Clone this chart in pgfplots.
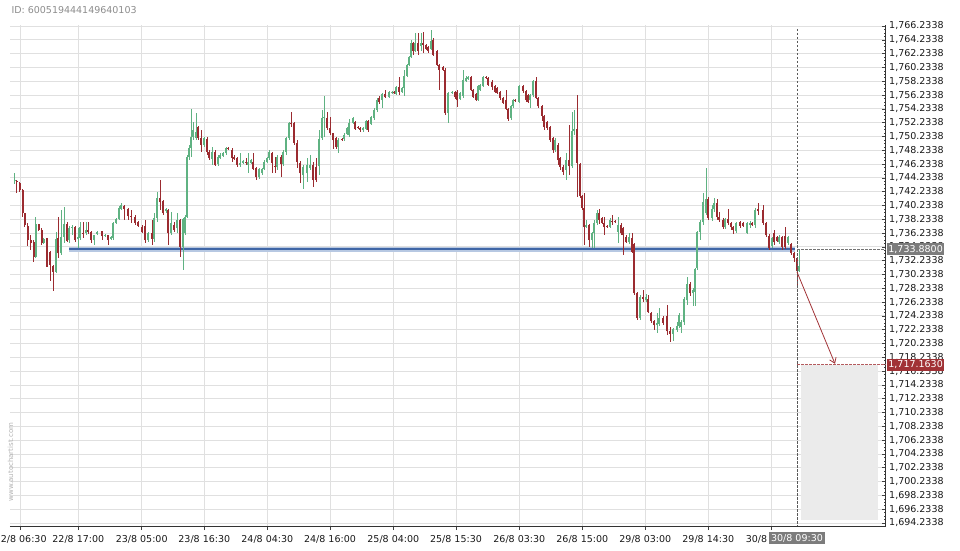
\documentclass[border=0pt]{standalone}
\usepackage{pgfplots}
\pgfplotsset{compat=1.18}
\usepackage{pgfplotstable}
\usepackage{fontspec}
\setmainfont{DejaVu Sans}
\usetikzlibrary{arrows.meta}
\definecolor{cgreen}{HTML}{5FB282}
\definecolor{cred}{HTML}{9B2B30}
\definecolor{cblue}{HTML}{3F66A6}
\definecolor{cblueh}{HTML}{B7C8E2}
\definecolor{hlred}{HTML}{A13236}
\definecolor{hlgrey}{HTML}{7C7C7C}

\pgfplotstableread{
x o h l c
15 1743.8 1744.9 1743.3 1743.9
36 1732.8 1738.6 1732.6 1737.5
44 1734.8 1735.5 1734.6 1735.4
56 1730.6 1736.4 1730.4 1735.4
61 1733.3 1739.6 1733.1 1735.7
64 1735.7 1740.0 1734.8 1737.5
69 1735.2 1737.3 1734.8 1737.0
72 1737.0 1737.4 1735.9 1737.1
78 1735.4 1737.0 1734.1 1735.7
80 1735.5 1737.8 1735.2 1737.1
86 1736.2 1737.8 1735.9 1736.7
94 1735.2 1736.0 1734.5 1735.9
97 1736.1 1736.5 1735.9 1736.4
105 1735.8 1736.1 1735.6 1735.9
111 1735.4 1735.8 1735.2 1735.7
113 1735.5 1737.8 1735.2 1737.7
116 1737.7 1738.4 1737.5 1738.3
119 1738.3 1740.2 1738.1 1739.9
121 1739.7 1740.6 1739.6 1740.3
148 1735.2 1736.4 1735.0 1736.2
154 1735.4 1739.1 1734.9 1738.4
157 1738.4 1742.2 1737.8 1741.3
166 1739.4 1739.9 1739.2 1739.7
171 1736.2 1739.3 1735.9 1737.7
177 1737.0 1739.1 1736.2 1738.1
183 1734.2 1738.4 1730.9 1738.3
185 1736.2 1738.8 1735.9 1738.6
187 1738.6 1747.5 1738.4 1747.3
189 1747.3 1749.0 1746.8 1748.6
191 1748.6 1754.2 1747.3 1750.1
193 1750.1 1752.3 1749.7 1751.2
196 1750.0 1753.6 1749.7 1750.9
204 1749.0 1750.1 1748.7 1750.0
212 1747.0 1748.7 1746.1 1748.0
218 1746.2 1747.5 1745.9 1747.3
220 1747.1 1747.8 1746.9 1747.5
223 1747.4 1748.0 1747.3 1747.8
226 1747.8 1748.7 1747.5 1748.6
240 1746.1 1747.8 1745.8 1746.4
243 1746.4 1746.8 1746.3 1746.7
248 1746.1 1747.8 1744.9 1746.5
251 1746.4 1747.0 1746.2 1746.8
259 1744.4 1745.6 1744.1 1745.5
262 1744.9 1745.7 1744.7 1745.5
264 1745.5 1746.8 1745.4 1746.5
267 1746.5 1747.3 1746.4 1747.1
269 1747.1 1748.3 1746.8 1748.0
277 1745.8 1747.5 1745.4 1747.3
283 1746.2 1748.3 1745.9 1748.0
286 1748.0 1750.1 1747.5 1750.0
289 1750.0 1752.3 1749.7 1752.2
303 1744.6 1746.1 1742.6 1745.8
307 1744.9 1747.1 1743.6 1746.1
310 1745.7 1747.5 1745.4 1746.1
319 1745.9 1751.2 1744.6 1749.9
322 1750.0 1754.1 1749.7 1752.9
324 1752.9 1756.1 1750.1 1753.0
338 1748.7 1750.0 1747.8 1749.7
344 1749.9 1750.7 1749.6 1750.4
347 1750.6 1751.6 1750.4 1751.5
349 1750.4 1752.8 1750.1 1752.2
353 1752.2 1753.0 1752.0 1752.9
363 1751.2 1751.6 1750.9 1751.5
366 1751.3 1752.6 1751.2 1752.5
371 1752.0 1753.2 1751.9 1753.0
374 1752.9 1754.4 1752.6 1754.1
377 1754.1 1755.8 1753.8 1755.5
382 1755.5 1756.5 1754.4 1756.4
389 1755.9 1756.8 1755.8 1756.7
392 1756.5 1756.8 1756.4 1756.7
396 1756.4 1757.5 1756.2 1757.4
402 1756.7 1757.4 1756.5 1757.2
404 1757.2 1759.9 1756.1 1759.0
407 1759.0 1760.8 1758.8 1760.6
409 1760.6 1761.9 1760.4 1761.7
411 1761.7 1764.2 1761.6 1763.8
415 1762.6 1765.2 1762.5 1763.8
421 1763.3 1765.2 1762.6 1763.8
431 1762.9 1765.7 1762.8 1764.1
448 1753.6 1756.7 1752.2 1756.5
452 1756.5 1756.8 1756.4 1756.7
460 1755.7 1756.7 1755.5 1756.5
463 1756.1 1759.9 1755.8 1758.4
466 1758.3 1759.0 1758.1 1758.7
468 1758.6 1759.0 1758.4 1758.8
478 1755.5 1757.7 1755.4 1757.5
480 1757.0 1757.8 1756.8 1757.7
483 1757.5 1759.0 1757.4 1758.8
511 1752.9 1754.8 1752.6 1754.6
513 1754.6 1755.7 1754.4 1755.5
519 1755.2 1757.7 1755.1 1757.5
530 1755.5 1756.4 1754.4 1756.2
533 1756.2 1758.4 1755.9 1758.3
555 1748.3 1750.0 1748.0 1749.7
566 1745.4 1747.8 1743.9 1746.8
572 1745.9 1753.8 1745.7 1751.0
574 1751.0 1754.1 1750.4 1751.3
586 1737.1 1738.1 1737.0 1737.4
592 1735.2 1736.4 1734.1 1736.2
594 1736.2 1738.1 1734.1 1737.7
597 1737.7 1739.6 1737.4 1739.1
610 1737.1 1738.4 1737.0 1738.1
618 1736.4 1738.6 1734.8 1737.4
629 1734.9 1736.2 1734.6 1735.7
640 1723.9 1727.2 1723.6 1727.0
646 1726.5 1727.4 1726.2 1727.0
657 1722.9 1724.6 1721.7 1723.2
659 1723.1 1725.4 1722.8 1723.9
673 1721.6 1722.5 1720.6 1722.3
677 1722.2 1723.3 1721.9 1722.8
679 1722.8 1724.6 1722.5 1724.4
681 1722.6 1723.6 1721.7 1723.3
684 1723.3 1727.0 1722.9 1726.7
687 1726.5 1729.9 1725.8 1728.8
693 1727.5 1728.3 1725.7 1728.0
695 1727.7 1731.2 1725.7 1731.0
697 1731.2 1736.5 1730.9 1736.4
700 1736.4 1738.1 1735.2 1737.8
703 1737.8 1742.0 1737.4 1740.7
706 1739.1 1745.7 1738.8 1741.2
712 1738.4 1740.3 1738.0 1739.7
714 1739.7 1741.3 1739.3 1740.6
725 1737.1 1738.4 1736.8 1738.3
736 1736.5 1737.8 1736.2 1737.7
747 1736.2 1737.8 1736.1 1737.7
750 1737.4 1738.0 1737.0 1737.7
755 1737.4 1739.9 1737.0 1739.6
772 1734.4 1735.7 1734.1 1735.5
779 1734.9 1735.9 1734.6 1735.7
788 1734.8 1735.8 1734.5 1735.7
799 1730.7 1733.9 1730.6 1731.5
}\greentab

\pgfplotstableread{
x o h l c
17 1743.8 1743.9 1742.0 1743.6
20 1743.5 1743.6 1742.2 1742.5
23 1742.5 1742.6 1738.6 1739.1
25 1739.1 1739.2 1737.1 1737.4
28 1737.3 1737.7 1734.4 1735.2
31 1735.2 1735.9 1733.8 1734.8
34 1734.9 1735.2 1732.0 1732.8
39 1737.5 1737.6 1736.5 1736.7
42 1736.7 1737.0 1734.5 1734.8
47 1735.4 1735.5 1731.3 1731.9
50 1733.5 1733.6 1729.3 1731.6
53 1731.5 1731.6 1727.8 1730.6
58 1735.5 1738.6 1732.6 1733.3
67 1737.5 1737.8 1734.9 1735.1
75 1737.1 1737.3 1734.9 1735.2
83 1736.2 1737.8 1735.5 1736.1
88 1736.7 1737.8 1736.1 1736.4
91 1736.4 1736.5 1734.8 1735.2
102 1736.5 1736.6 1735.2 1735.8
108 1735.9 1736.0 1734.5 1735.2
124 1740.2 1740.3 1738.1 1739.7
128 1739.7 1739.8 1738.1 1738.7
131 1738.7 1739.6 1737.7 1738.6
135 1738.6 1738.8 1737.4 1737.7
138 1737.8 1738.0 1737.1 1737.3
142 1737.1 1737.4 1736.2 1736.4
145 1737.3 1738.1 1734.8 1735.2
152 1736.2 1738.1 1734.5 1735.4
160 1741.3 1743.9 1739.6 1740.7
163 1740.9 1741.0 1738.8 1739.1
168 1739.6 1739.7 1734.5 1736.2
174 1737.4 1737.8 1736.4 1736.7
180 1738.1 1738.3 1732.8 1734.2
198 1751.6 1751.7 1749.7 1750.0
201 1750.0 1751.2 1748.0 1749.0
207 1749.9 1750.1 1747.5 1748.0
209 1748.0 1748.3 1746.8 1747.1
215 1748.0 1748.3 1745.9 1746.1
228 1748.6 1748.7 1748.3 1748.4
232 1748.3 1748.6 1746.5 1747.1
234 1747.3 1747.5 1746.8 1747.0
237 1747.1 1747.2 1745.8 1746.1
246 1746.5 1747.1 1746.1 1746.4
253 1746.5 1747.8 1745.4 1745.5
256 1745.7 1745.8 1743.9 1744.4
272 1747.8 1748.0 1744.9 1746.4
275 1745.9 1747.3 1744.9 1745.8
281 1747.3 1747.5 1744.4 1746.2
291 1752.2 1753.8 1751.6 1752.0
294 1752.2 1752.3 1749.0 1749.3
297 1749.3 1749.7 1745.7 1746.5
300 1746.4 1746.7 1743.5 1744.9
313 1746.1 1746.5 1742.9 1743.9
316 1745.8 1747.1 1743.6 1743.9
327 1752.9 1753.8 1751.2 1751.5
330 1751.5 1753.0 1750.4 1750.7
333 1750.7 1750.8 1748.4 1749.7
336 1750.0 1750.1 1748.4 1748.7
342 1749.9 1750.0 1749.6 1749.7
355 1752.3 1752.5 1751.2 1751.3
358 1751.6 1751.7 1751.3 1751.5
360 1751.5 1751.6 1750.9 1751.2
368 1752.5 1752.6 1750.9 1751.2
379 1755.8 1756.1 1754.9 1755.2
385 1756.4 1757.0 1755.8 1755.9
394 1756.7 1756.8 1756.4 1756.5
399 1757.4 1758.8 1756.2 1756.7
413 1763.8 1763.9 1762.0 1762.6
418 1763.8 1765.2 1762.0 1762.6
423 1763.8 1765.4 1762.3 1763.5
426 1763.5 1763.6 1762.7 1762.9
428 1763.2 1763.3 1762.3 1762.6
433 1764.2 1764.5 1761.9 1762.0
437 1762.6 1762.8 1760.4 1760.6
439 1760.6 1760.7 1757.0 1759.9
443 1760.3 1760.4 1759.7 1759.9
445 1759.9 1760.1 1753.3 1753.6
455 1756.7 1756.8 1755.7 1755.9
457 1756.7 1757.0 1754.5 1755.5
471 1758.8 1759.0 1756.8 1757.0
473 1757.0 1757.1 1755.8 1755.9
476 1756.4 1756.5 1755.4 1755.5
486 1758.8 1759.0 1758.6 1758.7
488 1758.7 1758.8 1757.5 1757.7
492 1758.1 1758.4 1757.0 1757.4
495 1757.5 1757.7 1756.5 1756.7
497 1757.2 1757.4 1756.4 1756.5
500 1756.7 1756.8 1755.5 1755.8
503 1755.8 1755.9 1754.9 1755.1
506 1755.5 1757.0 1754.1 1754.2
508 1754.2 1754.4 1752.5 1752.8
515 1755.5 1755.7 1755.2 1755.4
523 1757.5 1757.7 1756.6 1756.8
526 1756.8 1757.0 1755.2 1755.5
528 1756.2 1756.4 1755.1 1755.2
536 1758.3 1758.8 1755.7 1755.8
538 1755.8 1755.9 1754.4 1754.6
542 1754.6 1754.8 1752.5 1753.2
544 1753.2 1753.3 1751.2 1751.6
547 1752.3 1752.5 1751.2 1751.5
550 1751.6 1751.7 1749.4 1749.7
553 1750.0 1750.1 1747.8 1748.3
558 1749.0 1749.3 1746.1 1746.8
560 1747.1 1747.3 1745.4 1745.8
563 1745.8 1746.1 1744.6 1745.1
569 1746.8 1751.9 1744.6 1745.9
577 1751.3 1756.2 1741.5 1746.4
580 1746.2 1746.4 1741.3 1741.6
582 1741.6 1741.7 1739.6 1739.9
584 1739.9 1742.0 1734.5 1737.1
589 1737.4 1737.5 1734.2 1735.2
599 1739.1 1739.7 1737.5 1738.1
602 1738.4 1738.6 1737.5 1737.7
604 1737.7 1738.6 1735.9 1737.1
607 1737.3 1737.4 1737.0 1737.1
612 1738.0 1738.8 1737.4 1737.8
615 1738.0 1738.1 1737.7 1737.8
621 1737.4 1737.7 1735.9 1736.2
623 1737.0 1737.1 1733.1 1735.9
626 1735.7 1735.9 1734.8 1734.9
632 1735.5 1736.2 1733.3 1733.5
634 1734.6 1734.8 1727.3 1727.5
637 1727.5 1727.7 1723.6 1723.9
643 1727.0 1728.0 1726.2 1726.7
648 1726.7 1727.3 1724.6 1724.8
651 1724.6 1724.8 1723.2 1723.5
654 1723.5 1723.6 1722.2 1722.9
663 1723.9 1724.2 1722.9 1723.2
667 1724.2 1725.8 1721.5 1722.0
670 1722.0 1722.6 1720.4 1721.6
690 1728.8 1729.1 1727.1 1727.5
708 1741.2 1741.5 1738.1 1738.4
717 1740.6 1741.2 1738.1 1738.6
719 1738.6 1739.3 1737.8 1738.1
723 1738.1 1738.4 1736.8 1737.1
728 1738.3 1739.7 1737.4 1737.7
731 1737.7 1737.8 1736.7 1737.1
733 1737.1 1737.3 1736.1 1736.7
740 1737.8 1738.0 1737.0 1737.3
743 1737.7 1737.8 1737.1 1737.3
752 1737.7 1737.8 1737.3 1737.4
758 1739.7 1740.6 1738.8 1739.4
763 1739.6 1740.3 1737.4 1737.7
766 1737.7 1737.8 1735.7 1735.9
769 1735.8 1736.1 1733.8 1734.1
774 1736.2 1736.7 1734.5 1734.9
777 1735.7 1735.8 1734.9 1735.1
782 1735.7 1735.8 1733.8 1734.2
785 1735.8 1737.1 1733.9 1734.2
791 1734.6 1734.8 1733.1 1733.3
794 1733.3 1733.5 1732.1 1732.6
797 1732.6 1732.6 1728.7 1730.7
}\redtab

\begin{document}
\begin{tikzpicture}
\path[use as bounding box] (0,0) rectangle (960pt,550pt);
\begin{axis}[
  at={(10pt,24pt)}, anchor=south west,
  scale only axis, width=875.7pt, height=501pt,
  xmin=10, xmax=885.7, ymin=1693.80, ymax=1766.38,
  axis x line*=bottom, axis y line*=right,
  axis line style={draw=black!80, line width=0.9pt, -},
  xtick={20.7,78.3,141.7,204.3,267.3,330,393.3,456,519.3,582.3,645.3,708.3,771.7},
  xticklabels={22/8 06:30,22/8 17:00,23/8 05:00,23/8 16:30,24/8 04:30,24/8 16:00,25/8 04:00,25/8 15:30,26/8 03:30,26/8 15:00,29/8 03:00,29/8 14:30,30/8 02:00},
  ytick={1694.2338,1696.2338,1698.2338,1700.2338,1702.2338,1704.2338,1706.2338,1708.2338,1710.2338,1712.2338,1714.2338,1716.2338,1718.2338,1720.2338,1722.2338,1724.2338,1726.2338,1728.2338,1730.2338,1732.2338,1734.2338,1736.2338,1738.2338,1740.2338,1742.2338,1744.2338,1746.2338,1748.2338,1750.2338,1752.2338,1754.2338,1756.2338,1758.2338,1760.2338,1762.2338,1764.2338,1766.2338},
  yticklabels={{1,694.2338},{1,696.2338},{1,698.2338},{1,700.2338},{1,702.2338},{1,704.2338},{1,706.2338},{1,708.2338},{1,710.2338},{1,712.2338},{1,714.2338},{1,716.2338},{1,718.2338},{1,720.2338},{1,722.2338},{1,724.2338},{1,726.2338},{1,728.2338},{1,730.2338},{1,732.2338},{1,734.2338},{1,736.2338},{1,738.2338},{1,740.2338},{1,742.2338},{1,744.2338},{1,746.2338},{1,748.2338},{1,750.2338},{1,752.2338},{1,754.2338},{1,756.2338},{1,758.2338},{1,760.2338},{1,762.2338},{1,764.2338},{1,766.2338}},
  minor x tick num=3, minor y tick num=3,
  xtick align=outside, ytick align=inside,
  major tick length=4pt, minor tick length=2pt,
  tick style={draw=black!75, line width=0.6pt},
  xmajorgrids, ymajorgrids,
  grid style={draw=black!12, line width=0.9pt},
  tick label style={font=\fontsize{9.5}{11}\selectfont, text=black!90},
  xticklabel style={yshift=-1.5pt},
  /pgf/number format/assume math mode=true,
  clip=false,
  candle/.style={mark=none, draw=none, forget plot, error bars/y explicit, error bars/error mark=none},
]
% shaded target zone
\fill[black!8] (axis cs:801,1717.163) rectangle (axis cs:878,1694.65);
% support line
\addplot[cblueh, line width=5pt, forget plot] coordinates {(69,1733.88) (795,1733.88)};
\addplot[cblue, line width=2pt, forget plot] coordinates {(69,1733.88) (795,1733.88)};
% candles: wicks
\addplot[candle, error bars/y dir=both, error bars/error bar style={line width=1pt, draw=cgreen}]
  table[x=x, y=o, y error plus expr=\thisrow{h}-\thisrow{o}, y error minus expr=\thisrow{o}-\thisrow{l}] {\greentab};
\addplot[candle, error bars/y dir=both, error bars/error bar style={line width=1pt, draw=cred}]
  table[x=x, y=o, y error plus expr=\thisrow{h}-\thisrow{o}, y error minus expr=\thisrow{o}-\thisrow{l}] {\redtab};
% candles: bodies
\addplot[candle, error bars/y dir=plus, error bars/error bar style={line width=2.9pt, draw=cgreen}]
  table[x=x, y=o, y error plus expr=\thisrow{c}-\thisrow{o}] {\greentab};
\addplot[candle, error bars/y dir=plus, error bars/error bar style={line width=2.9pt, draw=cred}]
  table[x=x, y=c, y error plus expr=\thisrow{o}-\thisrow{c}] {\redtab};
% markers of current time and levels
\addplot[black!65, line width=0.8pt, dash pattern=on 2.5pt off 1.5pt, forget plot] coordinates {(797,1765.8) (797,1693.80)};
\addplot[black!55, line width=0.8pt, dash pattern=on 2.5pt off 1.5pt, forget plot] coordinates {(797,1733.88) (885.7,1733.88)};
\addplot[hlred!80, line width=0.8pt, dash pattern=on 2.5pt off 1.5pt, forget plot] coordinates {(797,1717.163) (885.7,1717.163)};
\addplot[hlred, line width=0.8pt, -{Straight Barb[length=5pt,width=7pt]}, forget plot] coordinates {(797,1730.6) (835,1717.3)};
% highlighted labels
\node[anchor=west, fill=hlgrey, text=white, inner xsep=1.5pt, inner ysep=0pt, minimum height=12pt,
  font=\fontsize{9.5}{11}\selectfont, xshift=1pt] at (axis cs:885.7,1733.88) {1,733.8800};
\node[anchor=west, fill=hlred, text=white, inner xsep=1.5pt, inner ysep=0pt, minimum height=12pt,
  font=\fontsize{9.5}{11}\selectfont, xshift=1pt] at (axis cs:885.7,1717.163) {1,717.1630};
\node[anchor=north, fill=hlgrey, text=white, inner xsep=2pt, inner ysep=0pt, minimum height=12pt,
  font=\fontsize{9.5}{11}\selectfont, yshift=-6pt] at (axis cs:797,1693.80) {30/8 09:30};
\end{axis}
\node[anchor=west, text=black!45, font=\fontsize{9.5}{11}\selectfont] at (8pt,540pt) {ID: 600519444149640103};
\node[rotate=90, text=black!30, font=\fontsize{7}{8}\selectfont] at (10.5pt,88pt) {www.autochartist.com};
\end{tikzpicture}
\end{document}
